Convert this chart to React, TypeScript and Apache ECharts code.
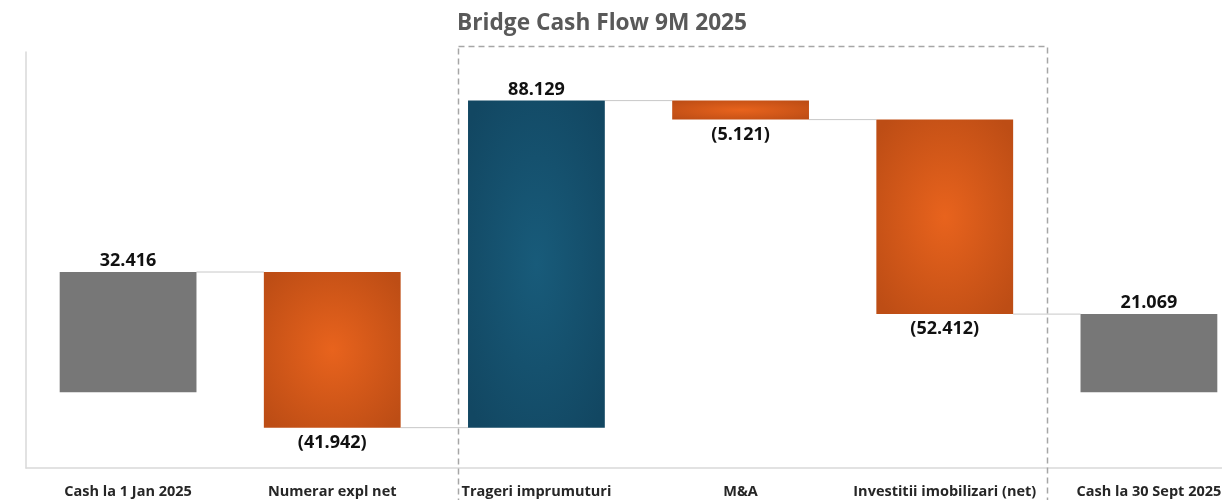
import React, { useEffect, useRef } from "react";
import * as echarts from "echarts";

const categories = [
  "Cash la 1 Jan 2025",
  "Numerar expl net",
  "Trageri imprumuturi",
  "M&A",
  "Investitii imobilizari (net)",
  "Cash la 30 Sept 2025",
];
const values = [32.416, -41.942, 88.129, -5.121, -52.412, 21.069];
const kinds = ["total", "delta", "delta", "delta", "delta", "total"];
const titleText = "Bridge Cash Flow 9M 2025";

const fmt = (v: number) => {
  const s = Math.abs(v).toFixed(3);
  return v < 0 ? `(${s})` : s;
};

export default function App() {
  const ref = useRef<HTMLDivElement>(null);
  useEffect(() => {
    if (!ref.current) return;
    const chart = echarts.init(ref.current, null, { renderer: "svg" });

    const grey = "#777777";
    const orange = new echarts.graphic.RadialGradient(0.5, 0.5, 0.65, [
      { offset: 0, color: "#E8631D" },
      { offset: 1, color: "#BD4D15" },
    ]);
    const teal = new echarts.graphic.RadialGradient(0.5, 0.5, 0.65, [
      { offset: 0, color: "#185B7A" },
      { offset: 1, color: "#124762" },
    ]);

    let cum = 0;
    const bases: number[] = [];
    const heights: number[] = [];
    const levels: number[] = [];
    values.forEach((v, i) => {
      if (kinds[i] === "total") {
        bases.push(0);
        heights.push(v);
        cum = v;
      } else {
        const low = v < 0 ? cum + v : cum;
        bases.push(low);
        heights.push(Math.abs(v));
        cum = cum + v;
      }
      levels.push(cum);
    });

    const connectors = levels.slice(0, -1).map((lv, i) => [i, lv]);

    chart.setOption({
      animation: false,
      title: {
        text: titleText,
        left: 452,
        top: 5,
        textStyle: {
          fontFamily: "Open Sans",
          fontWeight: "bold",
          fontSize: 22.7,
          color: "#595959",
        },
      },
      graphic: [
        {
          type: "rect",
          left: 456,
          top: 44,
          shape: { width: 589, height: 470 },
          style: {
            fill: "none",
            stroke: "#A6A6A6",
            lineWidth: 1.5,
            lineDash: [6, 4],
          },
          z: 10,
        },
      ],
      grid: {
        left: 26,
        top: 52,
        width: 1225,
        height: 416,
        outerBoundsMode: "none",
        containLabel: false,
      },
      xAxis: {
        type: "category",
        data: categories,
        axisLine: { onZero: false, lineStyle: { color: "#D9D9D9", width: 1.5 } },
        axisTick: { show: false },
        axisLabel: {
          interval: 0,
          margin: 15,
          fontFamily: "Open Sans",
          fontWeight: "bold",
          fontSize: 14.5,
          color: "#262626",
        },
      },
      yAxis: {
        type: "value",
        min: -20.4,
        max: 91.7,
        axisLine: { show: true, lineStyle: { color: "#D9D9D9", width: 1.5 } },
        axisTick: { show: false },
        axisLabel: { show: false },
        splitLine: { show: false },
      },
      series: [
        {
          type: "bar",
          stack: "w",
          stackStrategy: "all",
          barWidth: "67%",
          itemStyle: { color: "transparent" },
          emphasis: { disabled: true },
          data: bases,
          silent: true,
        },
        {
          type: "bar",
          stack: "w",
          stackStrategy: "all",
          barWidth: "67%",
          data: heights.map((h, i) => ({
            value: h,
            itemStyle: {
              color:
                kinds[i] === "total" ? grey : values[i] < 0 ? orange : teal,
            },
            label: {
              position: values[i] < 0 ? "bottom" : "top",
            },
          })),
          label: {
            show: true,
            distance: 4,
            fontFamily: "Open Sans",
            fontWeight: "bold",
            fontSize: 18,
            color: "#111111",
            formatter: (p: any) => fmt(values[p.dataIndex]),
          },
        },
        {
          type: "custom",
          silent: true,
          data: connectors,
          z: 1,
          renderItem: (params: any, api: any) => {
            const i = api.value(0);
            const lv = api.value(1);
            const bw = api.size([1, 0])[0] * 0.67;
            const p1 = api.coord([i, lv]);
            const p2 = api.coord([i + 1, lv]);
            return {
              type: "line",
              shape: {
                x1: p1[0] + bw / 2,
                y1: p1[1],
                x2: p2[0] - bw / 2,
                y2: p2[1],
              },
              style: { stroke: "#C8C8C8", lineWidth: 1 },
            };
          },
        },
      ],
    });
    return () => chart.dispose();
  }, []);

  return (
    <div
      ref={ref}
      style={{ position: "fixed", left: 0, top: 0, width: 1222, height: 500 }}
    />
  );
}
